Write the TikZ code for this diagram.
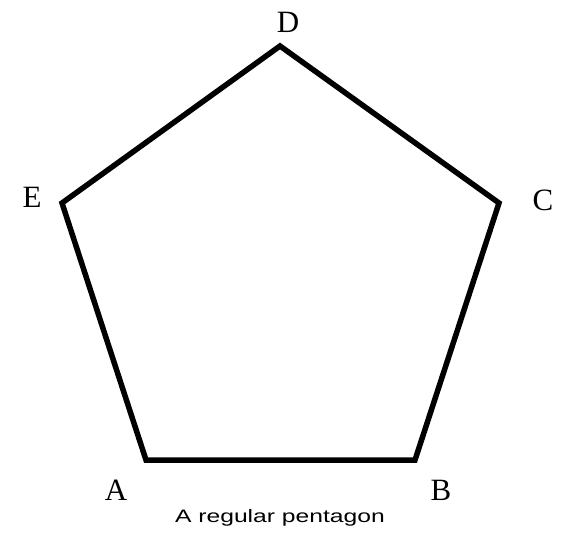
\documentclass[tikz,border=0pt]{standalone}
\usepackage{fontspec}
\newfontfamily\capfont{Liberation Sans}
\newfontfamily\lblfont{Liberation Serif}
\begin{document}
\begin{tikzpicture}[x=1pt,y=-1pt,
  edge/.style={line width=5.5pt,line join=miter},
  vlabel/.style={font=\lblfont\fontsize{31}{33}\selectfont,inner sep=0pt},
  captext/.style={font=\capfont\fontsize{18}{20}\selectfont,inner sep=0pt,xscale=1.37}]
\useasboundingbox[fill=white] (0,0) rectangle (561,546);
\coordinate (pA) at (146,460);
\coordinate (pB) at (415,460);
\coordinate (pC) at (499,203);
\coordinate (pD) at (280,46);
\coordinate (pE) at (62,203);
\draw[edge] (pA) -- (pB) -- (pC) -- (pD) -- (pE) -- cycle;
\node[vlabel] (lA) at (116,490) {A};
\node[vlabel] (lB) at (441,490) {B};
\node[vlabel] (lC) at (543,200) {C};
\node[vlabel] (lD) at (288,22) {D};
\node[vlabel] (lE) at (32,197) {E};
\node[captext,anchor=base] (cap) at (280,522) {A regular pentagon};
\end{tikzpicture}
\end{document}
